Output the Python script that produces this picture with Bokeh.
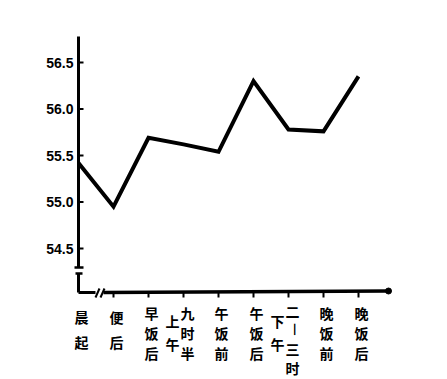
import math
from bokeh.plotting import figure
from bokeh.models import Range1d, ColumnDataSource
from bokeh.core.properties import value
from bokeh.embed import file_html
from bokeh.resources import INLINE

# ---- data ----
categories = ["晨起", "便后", "早饭后", "上午九时半", "午饭前", "午饭后", "下午二—三时", "晚饭前", "晚饭后"]
weights = [55.42, 54.95, 55.69, 55.62, 55.54, 56.30, 55.78, 55.76, 56.35]
y_ticks = [54.5, 55.0, 55.5, 56.0, 56.5]
y_tick_labels = ["54.5", "55.0", "55.5", "56.0", "56.5"]

# ---- layout (pixel geometry of the page) ----
W, H = 447, 379
X0_PX, STEP_PX = 78.0, 35.0          # pixel of category 0, pixels per category
Y_REF_PX, Y_REF, PX_PER_UNIT = 155.0, 55.5, 93.0


def X(px):
    return (px - X0_PX) / STEP_PX


def Y(py):
    return Y_REF + (Y_REF_PX - py) / PX_PER_UNIT


p = figure(width=W, height=H, output_backend="svg", toolbar_location=None,
           x_range=Range1d(X(0), X(W)), y_range=Range1d(Y(H), Y(0)),
           x_axis_location=None, y_axis_location=None, min_border=0)
p.outline_line_color = None
p.grid.grid_line_color = None
p.background_fill_color = "white"
p.border_fill_color = "white"

INK = "black"
AXIS_PX = 292.0

# y axis: upper part, break, lower part
p.segment(x0=[0], y0=[Y(36)], x1=[0], y1=[Y(267)], line_width=3, line_color=INK)
p.segment(x0=[X(74), X(75)], y0=[Y(267), Y(273)], x1=[X(83), X(82)], y1=[Y(267), Y(273)],
          line_width=2.5, line_color=INK)
p.segment(x0=[0], y0=[Y(273)], x1=[0], y1=[Y(AXIS_PX)], line_width=3, line_color=INK)

# y ticks and labels
p.segment(x0=[0] * len(y_ticks), y0=y_ticks, x1=[X(83)] * len(y_ticks), y1=y_ticks,
          line_width=2, line_color=INK)
p.text(x=[0] * len(y_ticks), y=y_ticks, text=y_tick_labels, x_offset=-5,
       text_align="right", text_baseline="middle", text_font=value("Liberation Sans"),
       text_font_style="bold", text_font_size="14px", text_color=INK)

# x axis with break
p.segment(x0=[0], y0=[Y(AXIS_PX)], x1=[X(95)], y1=[Y(AXIS_PX)], line_width=3, line_color=INK)
p.segment(x0=[X(95), X(100)], y0=[Y(297), Y(297)], x1=[X(99), X(104)], y1=[Y(288), Y(288)],
          line_width=2, line_color=INK)
p.segment(x0=[X(103)], y0=[Y(AXIS_PX)], x1=[X(388)], y1=[Y(290.5)], line_width=3.5, line_color=INK)
p.scatter(x=[X(388)], y=[Y(290.5)], size=6, color=INK)

# x ticks
idx = list(range(len(categories)))
p.segment(x0=idx[1:], y0=[Y(AXIS_PX)] * (len(idx) - 1), x1=idx[1:],
          y1=[Y(AXIS_PX + 5)] * (len(idx) - 1), line_width=2, line_color=INK)

# data line
p.line(x=idx, y=weights, line_width=4, line_color=INK, line_join="miter")

# vertical (stacked) category labels
cx, cy, ct, cxo, ca = [], [], [], [], []


def column(i, s, xoff, first, step):
    for k, ch in enumerate(s):
        cx.append(i)
        cy.append(Y(first + k * step))
        ct.append(ch)
        cxo.append(xoff)
        ca.append(math.pi / 2 if ch == "—" else 0.0)


for i, t in enumerate(categories):
    if t.startswith("上午") or t.startswith("下午"):
        pre, main = t[:2], t[2:]
        column(i, pre, -11, 320, 23)
        if len(main) == 3:
            column(i, main, 4, 312, 20)
        else:
            column(i, main, 4, 310, 19)
    else:
        if len(t) == 2:
            column(i, t, 3, 316, 25)
        else:
            column(i, t, 3, 312, 20)

src = ColumnDataSource(dict(x=cx, y=cy, t=ct, xo=cxo, a=ca))
p.text(x="x", y="y", text="t", x_offset="xo", angle="a", source=src,
       text_align="center", text_baseline="middle", text_font=value("Noto Sans CJK SC"),
       text_font_style="bold", text_font_size="14px", text_color=INK)

open("out.html", "w").write(file_html(p, INLINE))
